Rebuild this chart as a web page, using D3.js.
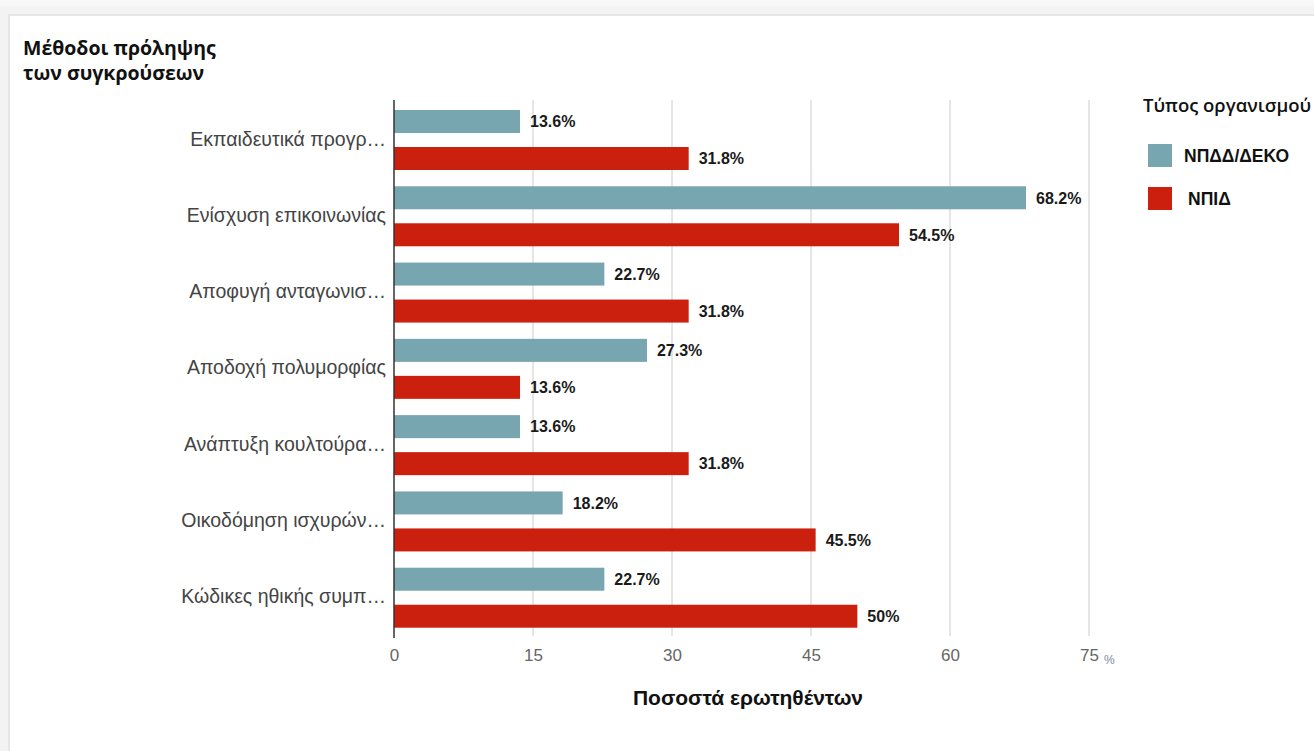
<!DOCTYPE html>
<html>
<head>
<meta charset="utf-8">
<script src="https://cdn.jsdelivr.net/npm/d3@7/dist/d3.min.js"></script>
<style>
  html, body { margin: 0; padding: 0; background: #f4f4f4; }
  svg { display: block; }
</style>
</head>
<body>
<svg id="chart" width="1314" height="751"></svg>
<script>
// Conflict-prevention methods, share of respondents by organisation type
const categories = [
  "Εκπαιδευτικά προγρ…",
  "Ενίσχυση επικοινωνίας",
  "Αποφυγή ανταγωνισ…",
  "Αποδοχή πολυμορφίας",
  "Ανάπτυξη κουλτούρα…",
  "Οικοδόμηση ισχυρών…",
  "Κώδικες ηθικής συμπ…"
];
const seriesNames = ["ΝΠΔΔ/ΔΕΚΟ", "ΝΠΙΔ"];
const valuesPublic = [13.6, 68.2, 22.7, 27.3, 13.6, 18.2, 22.7];
const valuesPrivate = [31.8, 54.5, 31.8, 13.6, 31.8, 45.5, 50];
const xTicks = [0, 15, 30, 45, 60, 75];
const colors = ["#77a5b0", "#cc200e"];

const rows = categories.map((c, i) => ({
  category: c,
  values: [valuesPublic[i], valuesPrivate[i]]
}));

const svg = d3.select("#chart");

// page background and white card
svg.append("rect").attr("x", 0).attr("y", 0).attr("width", 1314).attr("height", 751).attr("fill", "#f3f3f3");
svg.append("rect").attr("x", 0).attr("y", 0).attr("width", 1314).attr("height", 6).attr("fill", "#f8f8f8");
svg.append("rect").attr("x", 8).attr("y", 14).attr("width", 1306).attr("height", 737).attr("fill", "#e6e6e6");
svg.append("rect").attr("x", 10).attr("y", 16).attr("width", 1304).attr("height", 735).attr("fill", "#ffffff");

const plot = { left: 394, right: 1089, top: 100, bottom: 634 };

const x = d3.scaleLinear().domain([0, 75]).range([plot.left, plot.right]);
const y = d3.scaleBand().domain(categories).range([plot.top, plot.bottom]).paddingInner(0).paddingOuter(0);
const ySub = d3.scaleBand().domain([0, 1]).range([10, 70]).paddingInner(14 / 37).paddingOuter(0);

// vertical gridlines
svg.append("g")
  .selectAll("line")
  .data(xTicks.filter(t => t > 0))
  .join("line")
  .attr("x1", d => x(d)).attr("x2", d => x(d))
  .attr("y1", plot.top).attr("y2", plot.bottom + 2)
  .attr("stroke", "#cccccc").attr("stroke-width", 1);

// x axis tick labels
const xAxis = d3.axisBottom(x).tickValues(xTicks).tickSize(0).tickPadding(0).tickFormat(d3.format("d"));
const gx = svg.append("g").attr("transform", `translate(0,${plot.bottom + 15})`).call(xAxis);
gx.select(".domain").remove();
gx.selectAll("text")
  .attr("font-family", "'Liberation Sans', Arial, sans-serif")
  .attr("font-size", 17)
  .attr("fill", "#666666")
  .attr("dy", "0.71em");

svg.append("text")
  .attr("x", x(75) + 15).attr("y", plot.bottom + 30)
  .attr("font-family", "'Liberation Sans', Arial, sans-serif")
  .attr("font-size", 12)
  .attr("fill", "#7a8aa0")
  .text("%");

// category labels
const gy = svg.append("g").attr("transform", `translate(${plot.left},0)`)
  .call(d3.axisLeft(y).tickSize(0).tickPadding(8));
gy.select(".domain").remove();
gy.selectAll("text")
  .attr("font-family", "'Liberation Sans', Arial, sans-serif")
  .attr("font-size", 19.5)
  .attr("fill", "#444444")
  .attr("dy", "0.38em");

// bars
const groups = svg.append("g")
  .selectAll("g")
  .data(rows)
  .join("g")
  .attr("transform", d => `translate(0,${y(d.category)})`);

groups.selectAll("rect")
  .data(d => d.values.map((v, s) => ({ v, s })))
  .join("rect")
  .attr("x", x(0))
  .attr("y", d => ySub(d.s))
  .attr("width", d => x(d.v) - x(0))
  .attr("height", ySub.bandwidth())
  .attr("fill", d => colors[d.s]);

const fmt = v => (Number.isInteger(v) ? v : v.toFixed(1)) + "%";
groups.selectAll("text")
  .data(d => d.values.map((v, s) => ({ v, s })))
  .join("text")
  .attr("x", d => x(d.v) + 10)
  .attr("y", d => ySub(d.s) + ySub.bandwidth() / 2)
  .attr("dy", "0.36em")
  .attr("font-family", "'Liberation Sans', Arial, sans-serif")
  .attr("font-weight", "bold")
  .attr("font-size", 16)
  .attr("fill", "#1a1a1a")
  .text(d => fmt(d.v));

// zero baseline
svg.append("line")
  .attr("x1", x(0)).attr("x2", x(0))
  .attr("y1", plot.top).attr("y2", plot.bottom + 4)
  .attr("stroke", "#333333").attr("stroke-width", 1.5);

// chart title
const title = svg.append("text")
  .attr("font-family", "'Open Sans', 'DejaVu Sans', sans-serif")
  .attr("font-weight", "bold")
  .attr("font-size", 19.5)
  .attr("fill", "#111111");
title.append("tspan").attr("x", 23).attr("y", 55).text("Μέθοδοι πρόληψης");
title.append("tspan").attr("x", 23).attr("y", 80).text("των συγκρούσεων");

// x axis title
svg.append("text")
  .attr("x", 748).attr("y", 705)
  .attr("text-anchor", "middle")
  .attr("font-family", "'Liberation Sans', Arial, sans-serif")
  .attr("font-weight", "bold")
  .attr("font-size", 21)
  .attr("fill", "#111111")
  .text("Ποσοστά ερωτηθέντων");

// legend
const legend = svg.append("g");
legend.append("text")
  .attr("x", 1143).attr("y", 112)
  .attr("font-family", "'Open Sans', 'DejaVu Sans', sans-serif")
  .attr("font-weight", 600)
  .attr("font-size", 18.5)
  .attr("fill", "#111111")
  .text("Τύπος οργανισμού");

const items = legend.selectAll("g.item")
  .data(seriesNames)
  .join("g")
  .attr("class", "item")
  .attr("transform", (d, i) => `translate(1148,${144 + i * 43})`);
items.append("rect")
  .attr("width", 24).attr("height", 23)
  .attr("fill", (d, i) => colors[i]);
items.append("text")
  .attr("x", (d, i) => i === 0 ? 36 : 40)
  .attr("y", 12)
  .attr("dy", "0.36em")
  .attr("font-family", "'Liberation Sans', Arial, sans-serif")
  .attr("font-weight", "bold")
  .attr("font-size", 17.5)
  .attr("fill", "#111111")
  .text(d => d);
</script>
</body>
</html>
